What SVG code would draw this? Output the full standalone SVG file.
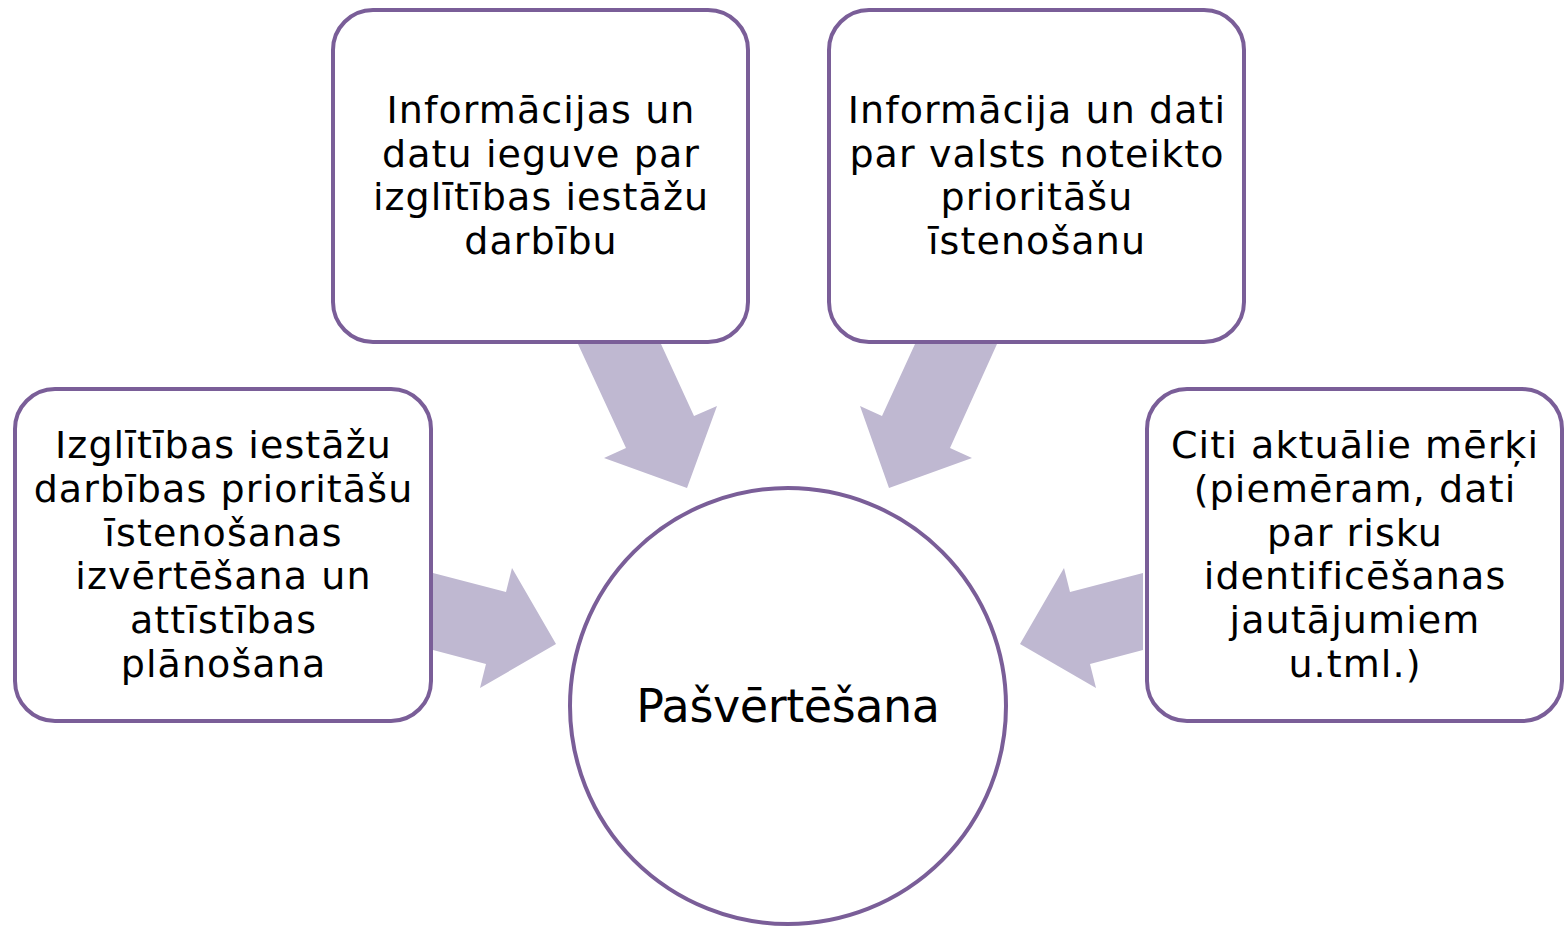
<svg xmlns="http://www.w3.org/2000/svg" width="1567" height="927" viewBox="0 0 1567 927">
<style>
.box{fill:#ffffff;stroke:#7a5e98;stroke-width:4}
.arr{fill:#bfb8d1}
.t{font-family:"DejaVu Sans","Verdana",sans-serif;font-size:38px;letter-spacing:1.1px;fill:#000000;text-anchor:middle}
.c{font-family:"DejaVu Sans","Verdana",sans-serif;font-size:46px;letter-spacing:-0.4px;fill:#000000;text-anchor:middle}
</style>
<rect width="1567" height="927" fill="#ffffff"/>
<g id="connectors">
<polygon class="arr" points="578,344 661,344 694,416 717,406 687,488 604,458 626,448"/>
<polygon class="arr" points="915,344 997,344 950,448 972,458 889,488 860,406 882,416"/>
<polygon class="arr" points="433,573 506,592 512,568 556,644 480,688 486,664 433,650"/>
<polygon class="arr" points="1143,573 1070,592 1064,568 1020,644 1096,688 1090,664 1143,650"/>
</g>
<g id="node-center">
<circle class="box" cx="788" cy="706" r="218"/>
<text class="c" x="788" y="722">Pašvērtēšana</text>
</g>
<g id="node-top-left">
<rect class="box" x="333" y="10" width="415" height="332" rx="40" ry="40"/>
<text class="t" x="541" y="123">Informācijas un</text>
<text class="t" x="541" y="166.5">datu ieguve par</text>
<text class="t" x="541" y="210">izglītības iestāžu</text>
<text class="t" x="541" y="253.5">darbību</text>
</g>
<g id="node-top-right">
<rect class="box" x="829" y="10" width="415" height="332" rx="40" ry="40"/>
<text class="t" x="1037" y="123">Informācija un dati</text>
<text class="t" x="1037" y="166.5">par valsts noteikto</text>
<text class="t" x="1037" y="210">prioritāšu</text>
<text class="t" x="1037" y="253.5">īstenošanu</text>
</g>
<g id="node-left">
<rect class="box" x="15" y="389" width="416" height="332" rx="40" ry="40"/>
<text class="t" x="223.5" y="458">Izglītības iestāžu</text>
<text class="t" x="223.5" y="502">darbības prioritāšu</text>
<text class="t" x="223.5" y="545.5">īstenošanas</text>
<text class="t" x="223.5" y="589">izvērtēšana un</text>
<text class="t" x="223.5" y="633">attīstības</text>
<text class="t" x="223.5" y="676.5">plānošana</text>
</g>
<g id="node-right">
<rect class="box" x="1147" y="389" width="415" height="332" rx="40" ry="40"/>
<text class="t" x="1355" y="458">Citi aktuālie mērķi</text>
<text class="t" x="1355" y="502">(piemēram, dati</text>
<text class="t" x="1355" y="545.5">par risku</text>
<text class="t" x="1355" y="589">identificēšanas</text>
<text class="t" x="1355" y="633">jautājumiem</text>
<text class="t" x="1355" y="676.5">u.tml.)</text>
</g>
</svg>
